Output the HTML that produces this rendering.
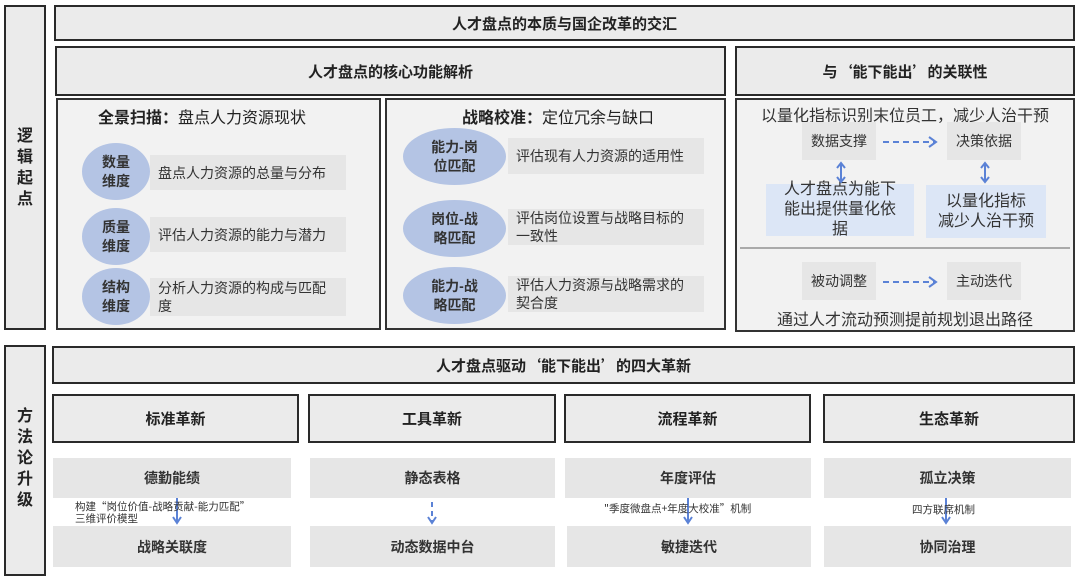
<!DOCTYPE html>
<html><head><meta charset="utf-8"><style>
*{margin:0;padding:0;box-sizing:border-box}
body{width:1080px;height:579px;background:#fff;position:relative;overflow:hidden;font-family:"Liberation Sans","Noto Sans CJK SC",sans-serif;color:#222}
.a{position:absolute}
.bx{position:absolute;border:2px solid #2a2a2a;background:#ebebeb;display:flex;align-items:center;justify-content:center;font-weight:bold;font-size:15px}
.q{font-family:"Noto Sans CJK SC",sans-serif}
.g{position:absolute;background:#e6e6e6;display:flex;align-items:center;font-size:14px;color:#333}
.c{justify-content:center;font-weight:bold}
.el{position:absolute;background:#b4c4e4;border-radius:50%;display:flex;align-items:center;justify-content:center;text-align:center;font-weight:bold;font-size:14px;line-height:19px;color:#333}
.bl{position:absolute;background:#dce6f6;display:flex;align-items:center;justify-content:center;text-align:center;font-size:16px;line-height:20px;color:#333}
.vt{position:absolute;font-weight:bold;font-size:16px;line-height:21px;width:20px;text-align:center}
.sm{position:absolute;font-size:10.5px;line-height:12px;color:#333;font-family:"Noto Sans CJK SC",sans-serif}
</style></head><body>
<div class="bx" style="left:4px;top:5px;width:42px;height:325px"></div>
<div class="vt" style="left:15px;top:126px">逻<br>辑<br>起<br>点</div>
<div class="bx" style="left:4px;top:345px;width:42px;height:231px"></div>
<div class="vt" style="left:15px;top:406px">方<br>法<br>论<br>升<br>级</div>

<div class="bx" style="left:54px;top:5px;width:1021px;height:36px">人才盘点的本质与国企改革的交汇</div>
<div class="bx" style="left:55px;top:46px;width:671px;height:50px">人才盘点的核心功能解析</div>
<div class="bx q" style="left:735px;top:46px;width:340px;height:50px">与‘能下能出’的关联性</div>

<!-- panel 1 -->
<div class="a" style="left:56px;top:98px;width:325px;height:232px;border:2px solid #333;background:#f2f2f2"></div>
<div class="a" style="left:98px;top:104px;font-size:16px"><b>全景扫描：</b>盘点人力资源现状</div>
<div class="g" style="left:150px;top:155px;width:196px;height:35px;padding-left:8px">盘点人力资源的总量与分布</div>
<div class="g" style="left:150px;top:217px;width:196px;height:35px;padding-left:8px">评估人力资源的能力与潜力</div>
<div class="g" style="left:150px;top:278px;width:196px;height:38px;padding-left:8px;line-height:18px">分析人力资源的构成与匹配<br>度</div>
<div class="el" style="left:82px;top:143px;width:68px;height:57px">数量<br>维度</div>
<div class="el" style="left:82px;top:208px;width:68px;height:57px">质量<br>维度</div>
<div class="el" style="left:82px;top:268px;width:68px;height:57px">结构<br>维度</div>

<!-- panel 2 -->
<div class="a" style="left:385px;top:98px;width:341px;height:232px;border:2px solid #333;background:#f2f2f2"></div>
<div class="a" style="left:462px;top:104px;font-size:16px"><b>战略校准：</b>定位冗余与缺口</div>
<div class="g" style="left:508px;top:138px;width:196px;height:36px;padding-left:8px">评估现有人力资源的适用性</div>
<div class="g" style="left:508px;top:209px;width:196px;height:36px;padding-left:8px;line-height:18px">评估岗位设置与战略目标的<br>一致性</div>
<div class="g" style="left:508px;top:276px;width:196px;height:36px;padding-left:8px;line-height:18px">评估人力资源与战略需求的<br>契合度</div>
<div class="el" style="left:403px;top:128px;width:103px;height:57px">能力-岗<br>位匹配</div>
<div class="el" style="left:403px;top:200px;width:103px;height:57px">岗位-战<br>略匹配</div>
<div class="el" style="left:403px;top:267px;width:103px;height:57px">能力-战<br>略匹配</div>

<!-- panel 3 -->
<div class="a" style="left:735px;top:98px;width:340px;height:234px;border:2px solid #333;background:#f2f2f2"></div>
<div class="a" style="left:735px;top:102px;width:340px;text-align:center;font-size:16px;color:#333">以量化指标识别末位员工，减少人治干预</div>
<div class="g c" style="left:802px;top:122px;width:74px;height:38px;font-weight:normal">数据支撑</div>
<div class="g c" style="left:947px;top:122px;width:74px;height:38px;font-weight:normal">决策依据</div>
<div class="bl" style="left:766px;top:184px;width:148px;height:52px">人才盘点为能下<br>能出提供量化依<br>据</div>
<div class="bl" style="left:926px;top:185px;width:120px;height:53px">以量化指标<br>减少人治干预</div>
<div class="a" style="left:740px;top:247px;width:330px;height:2px;background:#aaa"></div>
<div class="g c" style="left:802px;top:262px;width:74px;height:38px;font-weight:normal">被动调整</div>
<div class="g c" style="left:947px;top:262px;width:74px;height:38px;font-weight:normal">主动迭代</div>
<div class="a" style="left:735px;top:306px;width:340px;text-align:center;font-size:16px;color:#333">通过人才流动预测提前规划退出路径</div>

<svg class="a" style="left:0;top:0" width="1080" height="579">
<g stroke="#5b82d6" stroke-width="2" fill="none">
<line x1="883" y1="142" x2="935" y2="142" stroke-dasharray="6,4"/><polyline points="929,137 936,142 929,147"/>
<line x1="883" y1="282" x2="935" y2="282" stroke-dasharray="6,4"/><polyline points="929,277 936,282 929,287"/>
<line x1="841" y1="164" x2="841" y2="181"/><polyline points="837,168 841,163 845,168"/><polyline points="837,177 841,182 845,177"/>
<line x1="985" y1="164" x2="985" y2="181"/><polyline points="981,168 985,163 989,168"/><polyline points="981,177 985,182 989,177"/>
<line x1="177" y1="498" x2="177" y2="523"/><polyline points="173,517 177,523 181,517"/>
<line x1="432" y1="502" x2="432" y2="523" stroke-dasharray="5,4"/><polyline points="428,517 432,523 436,517"/>
<line x1="688" y1="498" x2="688" y2="523"/><polyline points="684,517 688,523 692,517"/>
<line x1="946" y1="498" x2="946" y2="523"/><polyline points="942,517 946,523 950,517"/>
</g></svg>

<div class="bx q" style="left:52px;top:346px;width:1023px;height:38px">人才盘点驱动‘能下能出’的四大革新</div>
<div class="bx" style="left:52px;top:394px;width:247px;height:49px">标准革新</div>
<div class="bx" style="left:308px;top:394px;width:248px;height:49px">工具革新</div>
<div class="bx" style="left:564px;top:394px;width:247px;height:49px">流程革新</div>
<div class="bx" style="left:823px;top:394px;width:252px;height:49px">生态革新</div>

<div class="g c" style="left:53px;top:458px;width:238px;height:40px">德勤能绩</div>
<div class="g c" style="left:310px;top:458px;width:245px;height:40px">静态表格</div>
<div class="g c" style="left:565px;top:458px;width:246px;height:40px">年度评估</div>
<div class="g c" style="left:824px;top:458px;width:247px;height:40px">孤立决策</div>
<div class="g c" style="left:53px;top:526px;width:238px;height:41px">战略关联度</div>
<div class="g c" style="left:310px;top:526px;width:245px;height:41px">动态数据中台</div>
<div class="g c" style="left:567px;top:526px;width:244px;height:41px">敏捷迭代</div>
<div class="g c" style="left:824px;top:526px;width:247px;height:41px">协同治理</div>

<div class="sm" style="left:75px;top:501px">构建“岗位价值-战略贡献-能力匹配”<br>三维评价模型</div>
<div class="sm" style="left:604px;top:503px">"季度微盘点+年度大校准”机制</div>
<div class="sm" style="left:912px;top:504px">四方联席机制</div>
</body></html>
